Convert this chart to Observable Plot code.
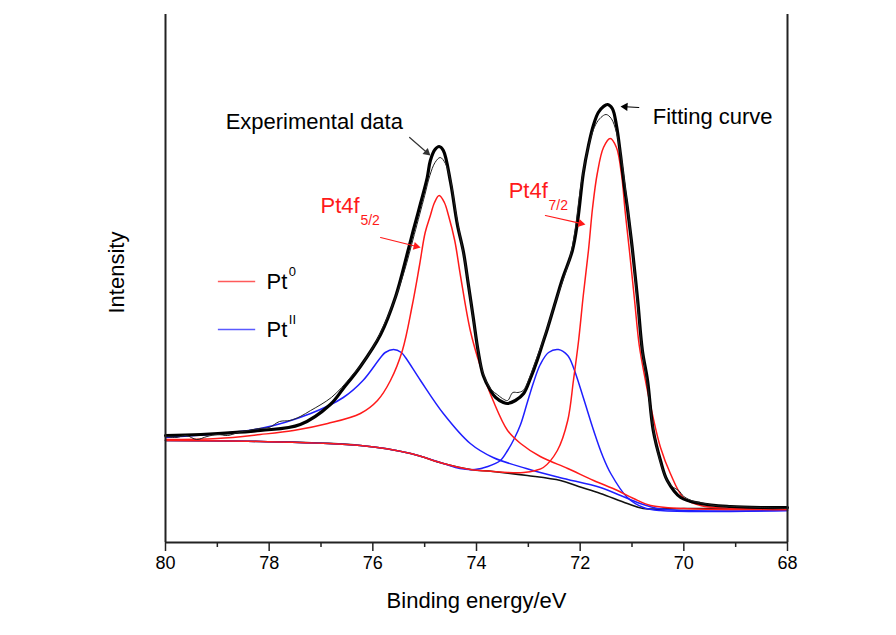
<!DOCTYPE html>
<html>
<head>
<meta charset="utf-8">
<script src="https://cdn.jsdelivr.net/npm/d3@7"></script>
<script src="https://cdn.jsdelivr.net/npm/@observablehq/plot@0.6"></script>
<style>
  html, body { margin: 0; padding: 0; background: #fff; }
  #chart { width: 896px; height: 635px; }
</style>
</head>
<body>
<div id="chart"></div>
<script>
// ---- Axis ticks ----
const majorTicks = [80, 78, 76, 74, 72, 70, 68];
const minorTicks = [79, 77, 75, 73, 71, 69];

// ---- Fitting curve (thick black) : binding energy (eV), intensity (a.u.) ----
const fitE = [80.00, 79.32, 78.17, 77.40, 76.82, 76.57, 76.24, 75.85, 75.56, 75.33, 75.22, 75.08, 74.95, 74.89, 74.80, 74.72, 74.64, 74.50, 74.37, 74.25, 74.16, 74.06, 73.97, 73.87, 73.73, 73.63, 73.48, 73.40, 73.25, 73.09, 72.96, 72.83, 72.73, 72.63, 72.48, 72.34, 72.15, 72.05, 71.94, 71.84, 71.74, 71.65, 71.55, 71.47, 71.38, 71.30, 71.22, 71.15, 71.09, 70.99, 70.89, 70.80, 70.70, 70.59, 70.45, 70.32, 70.06, 69.68, 69.10, 68.50, 68.00];
const fitI = [107, 108, 112, 118, 138, 154, 176, 208, 246, 290, 312, 339, 365, 382, 393, 396, 392, 360, 318, 290, 259, 224, 192, 167, 152, 145, 140, 139, 142, 149, 164, 182, 198, 214, 240, 264, 292, 321, 369, 397, 418, 430, 436, 438, 434, 417, 387, 357, 335, 292, 242, 192, 162, 112, 82, 62, 45, 39, 36, 35, 35];

// ---- Experimental data (thin black) ----
const expE = [80.00, 79.80, 79.60, 79.40, 79.20, 79.00, 78.80, 78.60, 78.40, 78.20, 78.00, 77.80, 77.60, 77.40, 77.20, 77.00, 76.80, 76.60, 76.40, 76.20, 76.00, 75.80, 75.60, 75.40, 75.20, 75.00, 74.90, 74.80, 74.70, 74.60, 74.50, 74.40, 74.30, 74.20, 74.10, 74.00, 73.90, 73.80, 73.70, 73.60, 73.50, 73.40, 73.30, 73.20, 73.10, 73.00, 72.90, 72.80, 72.70, 72.60, 72.50, 72.40, 72.30, 72.20, 72.10, 72.00, 71.90, 71.80, 71.70, 71.60, 71.50, 71.40, 71.30, 71.20, 71.10, 71.00, 70.90, 70.80, 70.70, 70.60, 70.50, 70.40, 70.30, 70.20, 70.10, 70.00, 69.80, 69.60, 69.40, 69.00, 68.50, 68.00];
const expI = [106, 105, 107, 103, 106, 108, 107, 110, 112, 114, 115, 121, 122, 126, 132, 138, 145, 155, 167, 179, 195, 216, 240, 270, 308, 347, 367, 380, 385, 379, 362, 330, 302, 274, 237, 202, 174, 160, 152, 148, 144, 142, 150, 150, 152, 162, 176, 190, 204, 220, 237, 252, 267, 284, 312, 352, 382, 404, 418, 425, 428, 424, 410, 382, 342, 297, 242, 192, 157, 117, 90, 72, 60, 55, 52, 46, 41, 39, 37, 36, 35, 34];

// ---- Pt0 4f5/2 component (red) ----
const pt0aE = [80.00, 79.00, 78.17, 77.53, 76.87, 76.24, 75.91, 75.66, 75.43, 75.24, 75.10, 74.99, 74.89, 74.81, 74.72, 74.62, 74.54, 74.42, 74.31, 74.12, 73.93, 73.68, 73.40, 73.15, 72.77, 72.24, 71.74, 71.28, 70.97, 70.64, 70.00, 69.00, 68.00];
const pt0aI = [103, 104, 108, 112, 119, 129, 142, 162, 192, 237, 277, 310, 327, 340, 347, 340, 327, 302, 267, 212, 177, 142, 112, 99, 86, 74, 62, 52, 44, 37, 34, 33, 33];

// ---- Pt0 4f7/2 component (red) ----
const pt0bE = [80.00, 78.17, 76.24, 75.27, 74.64, 74.12, 73.68, 73.40, 73.09, 72.86, 72.71, 72.44, 72.24, 72.13, 72.03, 71.94, 71.84, 71.76, 71.67, 71.55, 71.42, 71.30, 71.20, 71.13, 71.05, 70.95, 70.86, 70.74, 70.61, 70.45, 70.26, 70.01, 69.68, 69.00, 68.00];
const pt0bI = [102, 101, 97, 89, 79, 73, 71, 70, 70, 72, 75, 92, 122, 162, 202, 247, 292, 335, 369, 395, 404, 395, 367, 330, 292, 242, 197, 162, 129, 95, 69, 45, 37, 34, 33];

// ---- PtII 4f5/2 component (blue) ----
const pt2aE = [80.00, 78.17, 77.20, 76.57, 76.19, 75.85, 75.76, 75.60, 75.45, 75.37, 75.08, 74.64, 74.12, 73.68, 73.04, 72.40, 71.61, 71.22, 70.84, 70.51, 70.00, 68.00];
const pt2aI = [105, 114, 129, 145, 162, 185, 190, 193, 190, 185, 162, 129, 99, 85, 74, 65, 55, 47, 39, 34, 32, 32];

// ---- PtII 4f7/2 component (blue) ----
const pt2bE = [80.00, 78.17, 76.24, 75.27, 74.64, 74.32, 74.03, 73.78, 73.54, 73.40, 73.27, 73.15, 73.02, 72.90, 72.77, 72.61, 72.42, 72.24, 72.13, 71.94, 71.74, 71.57, 71.41, 71.09, 70.78, 70.45, 68.00];
const pt2bI = [102, 101, 97, 89, 79, 74, 73, 76, 82, 92, 104, 118, 140, 160, 178, 190, 193, 187, 175, 145, 112, 87, 69, 45, 35, 32, 32];

// ---- Shirley background (black) ----
const bgE = [80.00, 78.17, 76.24, 75.27, 74.64, 74.12, 73.68, 73.02, 72.38, 72.03, 71.61, 71.09, 70.78, 70.00, 68.00];
const bgI = [102, 101, 97, 89, 79, 73, 71, 67, 62, 56, 49, 39, 34, 34, 34];

// ---- Annotation arrows: start (E1, I1) -> tip (E2, I2) ----
const arrowLabels = ["Experimental data", "Fitting curve", "Pt4f5/2", "Pt4f7/2"];
const arrowE1 = [75.29, 70.87, 75.85, 72.67];
const arrowI1 = [405, 435, 305, 327];
const arrowE2 = [74.89, 71.22, 75.08, 71.90];
const arrowI2 = [387, 436, 295, 318];
const arrowColor = ["#333", "#000", "#ff1a1a", "#ff1a1a"];

const toRows = (E, I) => E.map((e, i) => ({E: e, I: I[i]}));
const fit = toRows(fitE, fitI);
const exp = toRows(expE, expI);
const pt0a = toRows(pt0aE, pt0aI);
const pt0b = toRows(pt0bE, pt0bI);
const pt2a = toRows(pt2aE, pt2aI);
const pt2b = toRows(pt2bE, pt2bI);
const bg = toRows(bgE, bgI);

const RED = "#ff1a1a", BLUE = "#1f1fff";
const FONT = "'Liberation Sans', Arial, Helvetica, sans-serif";

// plot geometry
const W = 896, H = 635, ML = 165, MR = 109, MT = 14, MB = 93;
const xDomain = [80, 68], yDomain = [0, 528];
const pxPerE = (W - ML - MR) / (xDomain[0] - xDomain[1]);
const pxPerI = (H - MT - MB) / (yDomain[1] - yDomain[0]);

const arrows = arrowLabels.map((label, i) => {
  const dxp = (arrowE1[i] - arrowE2[i]) * pxPerE;   // screen dx (E decreases to the right)
  const dyp = -(arrowI2[i] - arrowI1[i]) * pxPerI;  // screen dy
  const theta = Math.atan2(dyp, dxp);
  const back = 4.6;
  return {label, x1: arrowE1[i], y1: arrowI1[i], x2: arrowE2[i], y2: arrowI2[i], color: arrowColor[i],
          rot: theta * 180 / Math.PI + 90, hdx: -back * Math.cos(theta), hdy: -back * Math.sin(theta)};
});

const lineOpts = (stroke, w) => ({x: "E", y: "I", stroke, strokeWidth: w, curve: "catmull-rom"});

const headMarks = arrows.map(a => Plot.dot([a], {x: "x2", y: "y2", symbol: "triangle", r: 3, fill: a.color, stroke: "none", rotate: a.rot, dx: a.hdx, dy: a.hdy}));

const chart = Plot.plot({
  width: W,
  height: H,
  marginLeft: ML,
  marginRight: MR,
  marginTop: MT,
  marginBottom: MB,
  x: {domain: xDomain, axis: null},
  y: {domain: yDomain, axis: null},
  style: {fontFamily: FONT, fontSize: "18px", background: "#fff", color: "#000", overflow: "visible"},
  marks: [
    // components
    Plot.line(bg, lineOpts("#111", 1.6)),
    Plot.line(pt2a, lineOpts(BLUE, 1.5)),
    Plot.line(pt2b, lineOpts(BLUE, 1.5)),
    Plot.line(pt0a, lineOpts(RED, 1.5)),
    Plot.line(pt0b, lineOpts(RED, 1.5)),
    // fit and data
    Plot.line(fit, lineOpts("#000", 3.2)),
    Plot.line(exp, lineOpts("#222", 1)),
    // frame
    Plot.ruleX([80, 68], {stroke: "#222", strokeWidth: 2}),
    Plot.ruleY([0], {stroke: "#222", strokeWidth: 2}),
    // x axis
    Plot.axisX({ticks: majorTicks, tickSize: 9, tickPadding: 5, tickFormat: d => d, label: null, stroke: "#222", strokeWidth: 1.5, fontSize: 18, fill: "#000"}),
    Plot.axisX({ticks: minorTicks, tickSize: 5, tickFormat: () => "", label: null, stroke: "#222", strokeWidth: 1.5}),
    // axis titles
    Plot.text(["Binding energy/eV"], {frameAnchor: "bottom", dy: 58, fontSize: 22, lineAnchor: "middle", fill: "#000"}),
    Plot.text(["Intensity"], {frameAnchor: "left", dx: -49, dy: 35, rotate: -90, fontSize: 22, lineAnchor: "middle", fill: "#000"}),
    // annotations
    Plot.text(["Experimental data"], {x: 78.84, y: 421, textAnchor: "start", lineAnchor: "middle", fontSize: 22, fill: "#000"}),
    Plot.text(["Fitting curve"], {x: 70.60, y: 426, textAnchor: "start", lineAnchor: "middle", fontSize: 22, fill: "#000"}),
    Plot.text(["Pt4f"], {x: 77.01, y: 337, textAnchor: "start", lineAnchor: "middle", fontSize: 22, fill: RED}),
    Plot.text(["5/2"], {x: 76.24, y: 322, textAnchor: "start", lineAnchor: "middle", fontSize: 14, fill: RED}),
    Plot.text(["Pt4f"], {x: 73.38, y: 352, textAnchor: "start", lineAnchor: "middle", fontSize: 22, fill: RED}),
    Plot.text(["7/2"], {x: 72.61, y: 337, textAnchor: "start", lineAnchor: "middle", fontSize: 14, fill: RED}),
    Plot.arrow(arrows, {x1: "x1", y1: "y1", x2: "x2", y2: "y2", stroke: "color", strokeWidth: 1.2, headLength: 0, insetEnd: 5}),
    ...headMarks,
    // legend
    Plot.ruleY([261], {x1: 78.98, x2: 78.26, stroke: "#ff5a5a", strokeWidth: 1.3}),
    Plot.text(["Pt"], {x: 78.05, y: 261, textAnchor: "start", lineAnchor: "middle", fontSize: 22, fill: "#000"}),
    Plot.text(["0"], {x: 77.62, y: 271, textAnchor: "start", lineAnchor: "middle", fontSize: 13, fill: "#000"}),
    Plot.ruleY([213], {x1: 78.98, x2: 78.26, stroke: "#5a5aff", strokeWidth: 1.3}),
    Plot.text(["Pt"], {x: 78.05, y: 213, textAnchor: "start", lineAnchor: "middle", fontSize: 22, fill: "#000"}),
    Plot.text(["II"], {x: 77.62, y: 223, textAnchor: "start", lineAnchor: "middle", fontSize: 13, fill: "#000"})
  ]
});
document.getElementById("chart").appendChild(chart);
</script>
</body>
</html>
